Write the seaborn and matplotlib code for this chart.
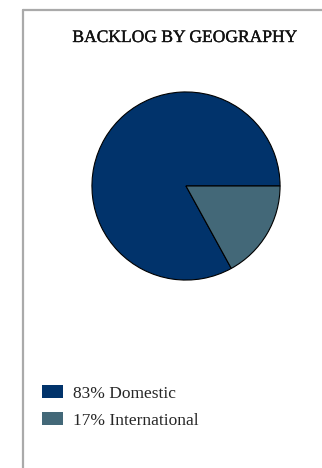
import numpy as np
import matplotlib.pyplot as plt
import matplotlib.patheffects as pe
from matplotlib.lines import Line2D
import seaborn as sns

sns.set_style("white")
plt.rcParams['font.family'] = ['Liberation Serif', 'DejaVu Serif']

# data
labels = ['Domestic', 'International']
shares = [83, 17]
colors = ['#01336b', '#436878']
title = 'BACKLOG BY GEOGRAPHY'

W, H = 322, 468
fig = plt.figure(figsize=(W / 100, H / 100), dpi=100)

# frame lines (top and left, gray)
fig.add_artist(Line2D([23 / W, 1], [1 - 10 / H, 1 - 10 / H], color='#aaaaaa', lw=1.6))
fig.add_artist(Line2D([23 / W, 23 / W], [0, 1 - 10 / H], color='#aaaaaa', lw=1.6))

fig.text(185 / W, 1 - 38 / H, title, ha='center', va='center', fontsize=12.6,
         color='#111111',
         path_effects=[pe.withStroke(linewidth=0.25, foreground='#111111')])

# pie
ax = fig.add_axes([91 / W, 1 - 281 / H, 190 / W, 190 / H])
wedges, _ = ax.pie(shares, colors=colors, startangle=0, counterclock=True,
                   wedgeprops=dict(edgecolor='black', linewidth=0.8))
ax.set_xlim(-1.01, 1.01)
ax.set_ylim(-1.01, 1.01)
ax.axis('off')

leg_labels = [f'{s}% {l}' for s, l in zip(shares, labels)]
fig.legend(wedges, leg_labels, loc='upper left', bbox_to_anchor=(42 / W, 1 - 385 / H),
           frameon=False, fontsize=12.5, handlelength=1.2, handleheight=0.8,
           labelspacing=0.6, handletextpad=0.57, borderpad=0, borderaxespad=0)
for h in fig.legends[0].legend_handles:
    h.set_edgecolor('none')

fig.savefig('out.png', dpi=100)
